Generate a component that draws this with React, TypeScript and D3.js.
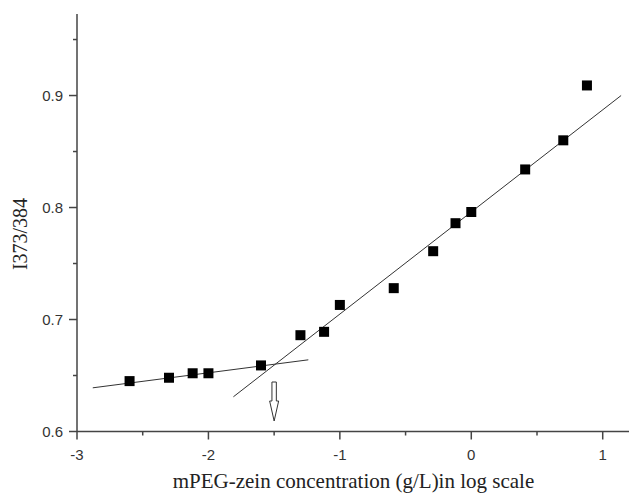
import React, { useEffect, useRef } from "react";
import * as d3 from "d3";

// log concentration (g/L) and I373/I384 ratio
const logConc = [-2.6, -2.3, -2.12, -2.0, -1.6, -1.3, -1.12, -1.0, -0.59, -0.29, -0.12, 0.0, 0.41, 0.7, 0.88];
const ratio = [0.645, 0.648, 0.652, 0.652, 0.659, 0.686, 0.689, 0.713, 0.728, 0.761, 0.786, 0.796, 0.834, 0.86, 0.909];

// linear fit segments [x, y]
const fitLow = [[-2.88, 0.639], [-1.24, 0.664]];
const fitHigh = [[-1.81, 0.631], [1.14, 0.9]];

// CMC marker
const cmcX = -1.5;

const xTicks = [-3, -2, -1, 0, 1];
const xMinor = [-2.5, -1.5, -0.5, 0.5];
const yTicks = [0.6, 0.7, 0.8, 0.9];
const yMinor = [0.65, 0.75, 0.85, 0.95];

const W = 629;
const H = 493;

const App = () => {
  const svgRef = useRef<SVGSVGElement>(null);

  useEffect(() => {
    const svg = d3.select(svgRef.current);
    svg.selectAll("*").remove();

    const x = d3.scaleLinear().domain([-3, 1.2]).range([77, 629]);
    const y = d3.scaleLinear().domain([0.6, 0.9728]).range([431.5, 14]);
    const axisColor = "#444";

    // x axis
    const gx = svg.append("g").attr("transform", `translate(0,${y(0.6)})`);
    gx.append("line").attr("x1", x(-3)).attr("x2", x(1.2)).attr("stroke", axisColor).attr("stroke-width", 1.5);
    gx.selectAll(".maj").data(xTicks).enter().append("line")
      .attr("x1", (d) => x(d)).attr("x2", (d) => x(d)).attr("y1", 0).attr("y2", 8)
      .attr("stroke", axisColor).attr("stroke-width", 1.5);
    gx.selectAll(".min").data(xMinor).enter().append("line")
      .attr("x1", (d) => x(d)).attr("x2", (d) => x(d)).attr("y1", 0).attr("y2", 4)
      .attr("stroke", axisColor).attr("stroke-width", 1.5);
    gx.selectAll("text").data(xTicks).enter().append("text")
      .attr("x", (d) => x(d)).attr("y", 28)
      .attr("text-anchor", "middle")
      .attr("font-family", "Liberation Sans, Arial, sans-serif")
      .attr("font-size", 15).attr("fill", "#333")
      .text((d) => String(d));

    // y axis
    const gy = svg.append("g").attr("transform", `translate(${x(-3)},0)`);
    gy.append("line").attr("y1", y(0.6)).attr("y2", y(0.9728)).attr("stroke", axisColor).attr("stroke-width", 1.5);
    gy.selectAll(".maj").data(yTicks).enter().append("line")
      .attr("y1", (d) => y(d)).attr("y2", (d) => y(d)).attr("x1", 0).attr("x2", -8)
      .attr("stroke", axisColor).attr("stroke-width", 1.5);
    gy.selectAll(".min").data(yMinor).enter().append("line")
      .attr("y1", (d) => y(d)).attr("y2", (d) => y(d)).attr("x1", 0).attr("x2", -4)
      .attr("stroke", axisColor).attr("stroke-width", 1.5);
    gy.selectAll("text").data(yTicks).enter().append("text")
      .attr("x", -14).attr("y", (d) => y(d)).attr("dy", "0.36em")
      .attr("text-anchor", "end")
      .attr("font-family", "Liberation Sans, Arial, sans-serif")
      .attr("font-size", 15).attr("fill", "#333")
      .text((d) => d.toFixed(1));

    // fit lines
    const line = d3.line<number[]>().x((d) => x(d[0])).y((d) => y(d[1]));
    [fitLow, fitHigh].forEach((seg) => {
      svg.append("path").attr("d", line(seg)).attr("fill", "none").attr("stroke", "#333").attr("stroke-width", 1);
    });

    // data points
    const s = 10;
    svg.selectAll(".pt").data(logConc).enter().append("rect")
      .attr("x", (d) => x(d) - s / 2)
      .attr("y", (d, i) => y(ratio[i]) - s / 2)
      .attr("width", s).attr("height", s)
      .attr("fill", "#000");

    // hollow arrow at CMC
    const ax = x(cmcX);
    const top = 382, headTop = 401, tip = 421, sw = 2.2, hw = 4.5;
    svg.append("path")
      .attr("d", `M${ax - sw},${top} L${ax + sw},${top} L${ax + sw},${headTop} L${ax + hw},${headTop} L${ax},${tip} L${ax - hw},${headTop} L${ax - sw},${headTop} Z`)
      .attr("fill", "#fff").attr("stroke", "#333").attr("stroke-width", 1);

    // axis titles
    svg.append("text")
      .attr("x", 353.5).attr("y", 488)
      .attr("text-anchor", "middle")
      .attr("font-family", "Liberation Serif, Times New Roman, serif")
      .attr("font-size", 21).attr("fill", "#222")
      .text("mPEG-zein concentration (g/L)in log scale");
    svg.append("text")
      .attr("transform", "translate(27,234) rotate(-90)")
      .attr("text-anchor", "middle")
      .attr("font-family", "Liberation Serif, Times New Roman, serif")
      .attr("font-size", 20).attr("fill", "#222")
      .text("I373/384");
  }, []);

  return (
    <svg ref={svgRef} width={W} height={H} style={{ position: "absolute", left: 0, top: 0, background: "#fff" }} />
  );
};

export default App;
